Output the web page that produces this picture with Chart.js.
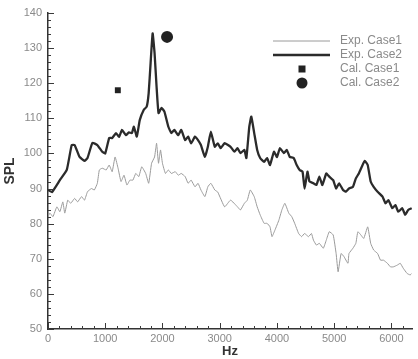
<!DOCTYPE html>
<html>
<head>
<meta charset="utf-8">
<script src="https://cdn.jsdelivr.net/npm/chart.js@4.4.1/dist/chart.umd.min.js"></script>
<style>
html,body{margin:0;padding:0;background:#fff;}
#wrap{width:418px;height:359px;}
</style>
</head>
<body>
<div id="wrap"><canvas id="c" width="418" height="359"></canvas></div>
<script>
// ---- data ----
const seriesLabels = ["Exp. Case1", "Exp. Case2", "Cal. Case1", "Cal. Case2"];
const xTickValues = [0, 1000, 2000, 3000, 4000, 5000, 6000];
const yTickValues = [50, 60, 70, 80, 90, 100, 110, 120, 130, 140];

const case2Hz  = [0,69,207,328,414,466,552,638,690,776,862,948,1000,1069,1121,1190,1241,1293,1362,1414,1466,1500,1552,1603,1672,1724,1759,1793,1828,1862,1897,1931,1983,2034,2103,2155,2207,2276,2328,2397,2448,2500,2569,2621,2672,2741,2793,2845,2914,2966,3017,3086,3190,3259,3310,3362,3431,3466,3517,3552,3603,3655,3707,3776,3828,3879,3948,4000,4052,4121,4172,4224,4293,4345,4397,4448,4483,4534,4569,4638,4690,4741,4793,4862,4914,4983,5034,5086,5155,5207,5259,5328,5379,5431,5483,5534,5586,5638,5690,5759,5845,5897,5948,6017,6069,6121,6190,6241,6293,6355];
const case2Spl = [89.6,89,92.4,95.3,102.4,102.4,99,97.9,98.7,103,102.4,100.5,100,104.4,104.4,105.8,104.7,106.7,105.2,106,105.8,107.6,104.8,109.5,112.4,113.3,117.2,125.8,134.2,128.6,119,111.5,113,111.9,107.6,105.8,106.7,105.2,106.7,103.8,104.8,102.9,104.8,103.8,102.4,99,101.9,106.2,101.9,102.9,101.5,102.9,101.9,100.5,101.5,100.1,101,98.7,107.6,110.5,105.8,101,98.7,97.6,98.7,96.7,100.5,99,101.5,100.1,101,99,98.7,96.7,95.3,94.8,90,94.8,92,91.5,91,93.4,91,94.3,93.4,92.4,90,91.5,89.6,89.1,90,90.5,92.9,94.3,96.2,97.9,96.7,92,90.5,89.1,87.7,85.8,86.7,84.4,85.3,83.4,84.4,82.5,83.9,84.4];

const case1Hz  = [0,34,86,155,207,259,293,345,397,466,517,586,638,690,759,810,862,897,948,1017,1069,1121,1172,1224,1276,1328,1379,1431,1483,1534,1586,1638,1707,1759,1810,1862,1897,1931,1966,2000,2052,2103,2155,2224,2276,2328,2397,2448,2500,2569,2621,2672,2741,2793,2845,2914,2966,3086,3190,3310,3362,3431,3483,3534,3603,3655,3707,3776,3828,3879,3914,3966,4034,4086,4138,4207,4259,4310,4379,4431,4483,4552,4603,4638,4690,4741,4810,4862,4914,4983,5034,5069,5121,5172,5241,5259,5328,5379,5414,5466,5517,5586,5638,5690,5759,5810,5862,5931,5983,6034,6103,6155,6207,6276,6328,6355];
const case1Spl = [82,83,82,84.8,83.4,86.2,83,86.7,85.8,87.2,86.2,87.7,86.7,89.1,90,89.6,91.5,95.3,95.8,95.3,96.7,94.8,99,95.8,92,93.8,91,92.4,92.4,94.3,93.4,96.2,94.3,91.5,97.2,99,102.9,97.2,101,97.2,94.3,95.3,94.3,94.8,93.8,94.3,93.4,91.5,92.4,90.5,91.5,89.6,87.7,90.5,91.5,89.6,89,84.8,86.7,84.8,83.9,85.8,86.7,89.6,87.7,84.8,82.5,80.1,80.1,79.1,76.3,78.2,81,83.9,85.8,83,82,80.1,77.2,76.3,77.2,76.3,77.2,75.3,73.9,74.4,73,75.3,77.7,76.8,71.5,66.3,71.5,70.6,68.7,71.5,73,74.4,77.7,76.8,75.8,79.1,74.4,72.5,71.5,69.6,69.6,68.7,67.7,67.7,68.2,68.7,67.3,65.8,65.4,65.8];

const cal1Hz = [1220];
const cal1Spl = [118];
const cal2Hz = [2080];
const cal2Spl = [133.2];

const X_MIN = 0, X_MAX = 6360, Y_MIN = 50, Y_MAX = 140;

function pts(xs, ys){ return xs.map((x,i)=>({x:x, y:ys[i]})); }

const FONT = "'Liberation Sans', Arial, sans-serif";
const GRAY = '#8a8a8a';

// inward ticks drawn through the scales
const innerTicks = {
  id:'innerTicks',
  afterDraw(chart){
    const ctx = chart.ctx, xs = chart.scales.x, ys = chart.scales.y;
    ctx.save();
    ctx.strokeStyle = '#3a3a3a';
    ctx.lineWidth = 1;
    const b = ys.bottom, l = xs.left;
    for (let v = X_MIN; v <= X_MAX; v += 200) {
      const p = Math.round(xs.getPixelForValue(v)) + 0.5;
      const len = (v % 1000 === 0) ? 6 : 3;
      ctx.beginPath(); ctx.moveTo(p, b); ctx.lineTo(p, b - len); ctx.stroke();
    }
    for (let v = Y_MIN; v <= Y_MAX; v += 2) {
      const p = Math.round(ys.getPixelForValue(v)) + 0.5;
      const len = (v % 10 === 0) ? 6 : 3;
      ctx.beginPath(); ctx.moveTo(l, p); ctx.lineTo(l + len, p); ctx.stroke();
    }
    ctx.restore();
  }
};

// legend at upper right
const cornerLegend = {
  id:'cornerLegend',
  afterDraw(chart){
    const ctx = chart.ctx;
    const ds = chart.data.datasets;
    const x0 = 273, x1 = 330, xm = 302, tx = 340;
    const rows = [41, 55, 69, 83];
    ctx.save();
    ctx.font = '12px ' + FONT;
    ctx.textBaseline = 'middle';
    ctx.textAlign = 'left';
    ds.forEach((d, i) => {
      const y = rows[i];
      if (d.showLine) {
        ctx.strokeStyle = d.borderColor; ctx.lineWidth = d.borderWidth;
        ctx.beginPath(); ctx.moveTo(x0, y); ctx.lineTo(x1, y); ctx.stroke();
      } else if (d.pointStyle === 'rect') {
        ctx.fillStyle = d.backgroundColor;
        ctx.fillRect(xm - 3.5, y - 3.5, 7, 7);
      } else {
        ctx.fillStyle = d.backgroundColor;
        ctx.beginPath(); ctx.arc(xm, y, 5.5, 0, Math.PI * 2); ctx.fill();
      }
      ctx.fillStyle = GRAY;
      ctx.fillText(d.label, tx, y);
    });
    ctx.restore();
  }
};

new Chart(document.getElementById('c'), {
  type: 'scatter',
  data: {
    datasets: [
      { label: seriesLabels[0], data: pts(case1Hz, case1Spl), showLine: true,
        borderColor: '#9a9a9a', borderWidth: 1, pointRadius: 0, tension: 0.12, order: 3 },
      { label: seriesLabels[1], data: pts(case2Hz, case2Spl), showLine: true,
        borderColor: '#2b2b2b', borderWidth: 2.3, pointRadius: 0, tension: 0.12, order: 2 },
      { label: seriesLabels[2], data: pts(cal1Hz, cal1Spl), showLine: false,
        pointStyle: 'rect', pointRadius: 4.2, backgroundColor: '#222', borderColor: '#222', borderWidth: 0, order: 1 },
      { label: seriesLabels[3], data: pts(cal2Hz, cal2Spl), showLine: false,
        pointStyle: 'circle', pointRadius: 6, backgroundColor: '#222', borderColor: '#222', borderWidth: 0, order: 0 }
    ]
  },
  options: {
    responsive: false,
    animation: false,
    devicePixelRatio: 1,
    layout: { padding: { top: 13, right: 0, left: 0, bottom: 0 } },
    plugins: { legend: { display: false }, tooltip: { enabled: false } },
    scales: {
      x: {
        type: 'linear', min: X_MIN, max: X_MAX,
        grid: { display: false, drawTicks: false },
        border: { display: true, color: '#333', width: 1.5 },
        afterBuildTicks: (s) => { s.ticks = xTickValues.map(v => ({ value: v })); },
        afterFit: (s) => { s.height = 30; },
        ticks: { autoSkip: false, maxRotation: 0, padding: 3, color: GRAY,
                 font: { family: FONT, size: 11 }, callback: (v) => String(v) },
        title: { display: true, text: 'Hz', color: '#333', padding: { top: 0, bottom: 0 },
                 font: { family: FONT, size: 13, weight: 'bold' } }
      },
      y: {
        type: 'linear', min: Y_MIN, max: Y_MAX,
        grid: { display: false, drawTicks: false },
        border: { display: true, color: '#333', width: 1.5 },
        afterBuildTicks: (s) => { s.ticks = yTickValues.map(v => ({ value: v })); },
        afterFit: (s) => { s.width = 48; },
        ticks: { autoSkip: false, padding: 6, color: GRAY,
                 font: { family: FONT, size: 11 }, callback: (v) => String(v) },
        title: { display: true, text: 'SPL', color: '#333', padding: { top: 2, bottom: 0 },
                 font: { family: FONT, size: 14, weight: 'bold' } }
      }
    }
  },
  plugins: [innerTicks, cornerLegend]
});
</script>
</body>
</html>
